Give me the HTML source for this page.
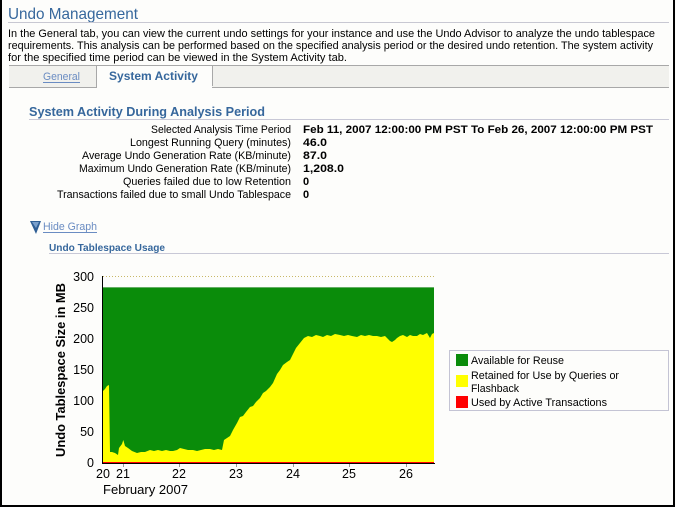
<!DOCTYPE html>
<html><head><meta charset="utf-8"><style>
html,body{margin:0;padding:0;background:#fdfdfb;}
svg{display:block;}
text{font-family:"Liberation Sans","DejaVu Sans",sans-serif;}
</style></head><body>
<svg width="676" height="507" viewBox="0 0 676 507" xmlns="http://www.w3.org/2000/svg">
<rect x="0" y="0" width="676" height="507" fill="#fdfdfb"/>
<!-- frame -->
<rect x="0" y="0" width="2" height="507" fill="#000"/>
<rect x="673" y="0" width="2" height="507" fill="#000"/>
<rect x="0" y="505" width="675" height="2" fill="#000"/>

<!-- title -->
<text x="8" y="19" font-size="16" fill="#36679c" textLength="130" lengthAdjust="spacingAndGlyphs">Undo Management</text>
<rect x="8" y="22" width="661" height="1" fill="#c8c8d2"/>

<!-- paragraph -->
<g font-size="11" fill="#000">
<text x="8" y="37" textLength="647" lengthAdjust="spacingAndGlyphs">In the General tab, you can view the current undo settings for your instance and use the Undo Advisor to analyze the undo tablespace</text>
<text x="8" y="49" textLength="645" lengthAdjust="spacingAndGlyphs">requirements. This analysis can be performed based on the specified analysis period or the desired undo retention. The system activity</text>
<text x="8" y="61" textLength="339" lengthAdjust="spacingAndGlyphs">for the specified time period can be viewed in the System Activity tab.</text>
</g>

<!-- tabs -->
<rect x="9" y="65" width="660" height="23" fill="#f1f1ed"/>
<rect x="9" y="65" width="660" height="1" fill="#a8a8a8"/>
<rect x="9" y="87" width="660" height="1" fill="#a8a8a8"/>
<rect x="96" y="65" width="116" height="23" fill="#fdfdfb"/>
<rect x="96" y="65" width="1" height="23" fill="#a8a8a8"/>
<rect x="212" y="65" width="1" height="21" fill="#a8a8a8"/>
<rect x="96" y="65" width="117" height="1" fill="#a8a8a8"/>
<text x="43" y="80" font-size="11" fill="#6a8cc2" textLength="37" lengthAdjust="spacingAndGlyphs">General</text>
<rect x="43" y="82" width="37" height="1" fill="#6a8cc2"/>
<text x="109" y="80" font-size="11.5" font-weight="bold" fill="#36679c" textLength="89" lengthAdjust="spacingAndGlyphs">System Activity</text>

<!-- section heading -->
<text x="29" y="116" font-size="13" font-weight="bold" fill="#36679c" textLength="236" lengthAdjust="spacingAndGlyphs">System Activity During Analysis Period</text>
<rect x="29" y="119" width="640" height="1" fill="#c8c8d6"/>

<g font-size="11" fill="#000" text-anchor="end">
<text x="291" y="133" textLength="140" lengthAdjust="spacingAndGlyphs">Selected Analysis Time Period</text>
<text x="291" y="146" textLength="161" lengthAdjust="spacingAndGlyphs">Longest Running Query (minutes)</text>
<text x="291" y="159" textLength="209" lengthAdjust="spacingAndGlyphs">Average Undo Generation Rate (KB/minute)</text>
<text x="291" y="172" textLength="212" lengthAdjust="spacingAndGlyphs">Maximum Undo Generation Rate (KB/minute)</text>
<text x="291" y="185" textLength="168" lengthAdjust="spacingAndGlyphs">Queries failed due to low Retention</text>
<text x="291" y="198" textLength="234" lengthAdjust="spacingAndGlyphs">Transactions failed due to small Undo Tablespace</text>
</g>
<g font-size="11" font-weight="bold" fill="#000">
<text x="303" y="133" textLength="350" lengthAdjust="spacingAndGlyphs">Feb 11, 2007 12:00:00 PM PST To Feb 26, 2007 12:00:00 PM PST</text>
<text x="303" y="146" textLength="24" lengthAdjust="spacingAndGlyphs">46.0</text>
<text x="303" y="159" textLength="24" lengthAdjust="spacingAndGlyphs">87.0</text>
<text x="303" y="172" textLength="41" lengthAdjust="spacingAndGlyphs">1,208.0</text>
<text x="303" y="185">0</text>
<text x="303" y="198">0</text>
</g>

<!-- hide graph -->
<polygon points="30,221 41,221 36,234" fill="#2f5f95"/>
<polygon points="32,222 39,222 36,228" fill="#7aa0cc"/>
<text x="43" y="230" font-size="11" fill="#6a8cc2" textLength="54" lengthAdjust="spacingAndGlyphs">Hide Graph</text>
<rect x="43" y="232" width="54" height="1" fill="#6a8cc2"/>

<text x="49" y="251" font-size="10.5" font-weight="bold" fill="#36679c" textLength="116" lengthAdjust="spacingAndGlyphs">Undo Tablespace Usage</text>
<rect x="49" y="253" width="620" height="1" fill="#c8c8d6"/>

<!-- chart -->
<line x1="103" y1="276.5" x2="434" y2="276.5" stroke="#c8b868" stroke-width="1" stroke-dasharray="1,2"/>
<rect x="103" y="287" width="331" height="176" fill="#0a8c0a"/>
<rect x="103" y="287" width="331" height="1" fill="#8cbc8c" opacity="0.7"/>
<polygon fill="#ffff00" points="
103,463 103,391 105,389 107,386 109,385 110,452 112,452 115,453 118,455 119,448 122,444 123.3,440 125,446 128,448 132,451 137,453 141,452 145,452 150,450 154,451 158,450 162,451 166,450 170,451 173,451 177,450 180,448 184,449 188,450 193,450 197,451 201,450 205,449 210,449 214,450 218,449 222,450 224,440 227,438 230,436 233,430 237,423 240,417 243,416 246,412 250,407 253,406 256,402 260,398 263,393 266,391 270,387 273,383 277,374 280,370 283,365 287,362 290,360 293,354 296,348 300,343 304,338 308,336 312,337 316,335 320,336 323,337 327,335 331,336 335,334 340,335 344,336 348,335 352,336 357,337 361,335 365,336 369,335 373,336 377,336 381,337 385,336 387,338 390,341 392,342 395,340 397,338 400,336 403,335 407,337 410,335 413,336 417,336 420,334 423,335 427,333 430,338 432,334 434,333 434,463"/>
<rect x="103" y="462" width="331" height="1" fill="#ff0000"/>
<rect x="102" y="276" width="1" height="188" fill="#000"/>
<rect x="102" y="463" width="333" height="1" fill="#000"/>
<g fill="#999">
<rect x="123" y="464" width="1" height="3"/>
<rect x="179" y="464" width="1" height="3"/>
<rect x="236" y="464" width="1" height="3"/>
<rect x="293" y="464" width="1" height="3"/>
<rect x="349" y="464" width="1" height="3"/>
<rect x="406" y="464" width="1" height="3"/>
</g>
<g font-size="12.5" fill="#000" text-anchor="end">
<text x="94" y="281">300</text>
<text x="94" y="312">250</text>
<text x="94" y="343">200</text>
<text x="94" y="374">150</text>
<text x="94" y="405">100</text>
<text x="94" y="436">50</text>
<text x="94" y="467">0</text>
</g>
<g font-size="12.5" fill="#000" text-anchor="middle">
<text x="103" y="478">20</text>
<text x="123" y="478">21</text>
<text x="179" y="478">22</text>
<text x="236" y="478">23</text>
<text x="293" y="478">24</text>
<text x="349" y="478">25</text>
<text x="406" y="478">26</text>
</g>
<text x="103" y="494" font-size="12.5" fill="#000" textLength="85" lengthAdjust="spacingAndGlyphs">February 2007</text>
<text transform="translate(65,370) rotate(-90)" text-anchor="middle" font-size="13" font-weight="bold" fill="#000" textLength="174" lengthAdjust="spacingAndGlyphs">Undo Tablespace Size in MB</text>

<!-- legend -->
<rect x="449.5" y="350.5" width="219" height="60" fill="#fdfdfb" stroke="#c4c4d4" stroke-width="1"/>
<rect x="456" y="354" width="12" height="12" fill="#0a8c0a"/>
<rect x="456" y="375" width="12" height="12" fill="#ffff00"/>
<rect x="456" y="396" width="12" height="12" fill="#ff0000"/>
<g font-size="11" fill="#000">
<text x="471" y="364" textLength="93" lengthAdjust="spacingAndGlyphs">Available for Reuse</text>
<text x="471" y="379" textLength="148" lengthAdjust="spacingAndGlyphs">Retained for Use by Queries or</text>
<text x="471" y="392" textLength="48" lengthAdjust="spacingAndGlyphs">Flashback</text>
<text x="471" y="406" textLength="136" lengthAdjust="spacingAndGlyphs">Used by Active Transactions</text>
</g>
</svg>
</body></html>
